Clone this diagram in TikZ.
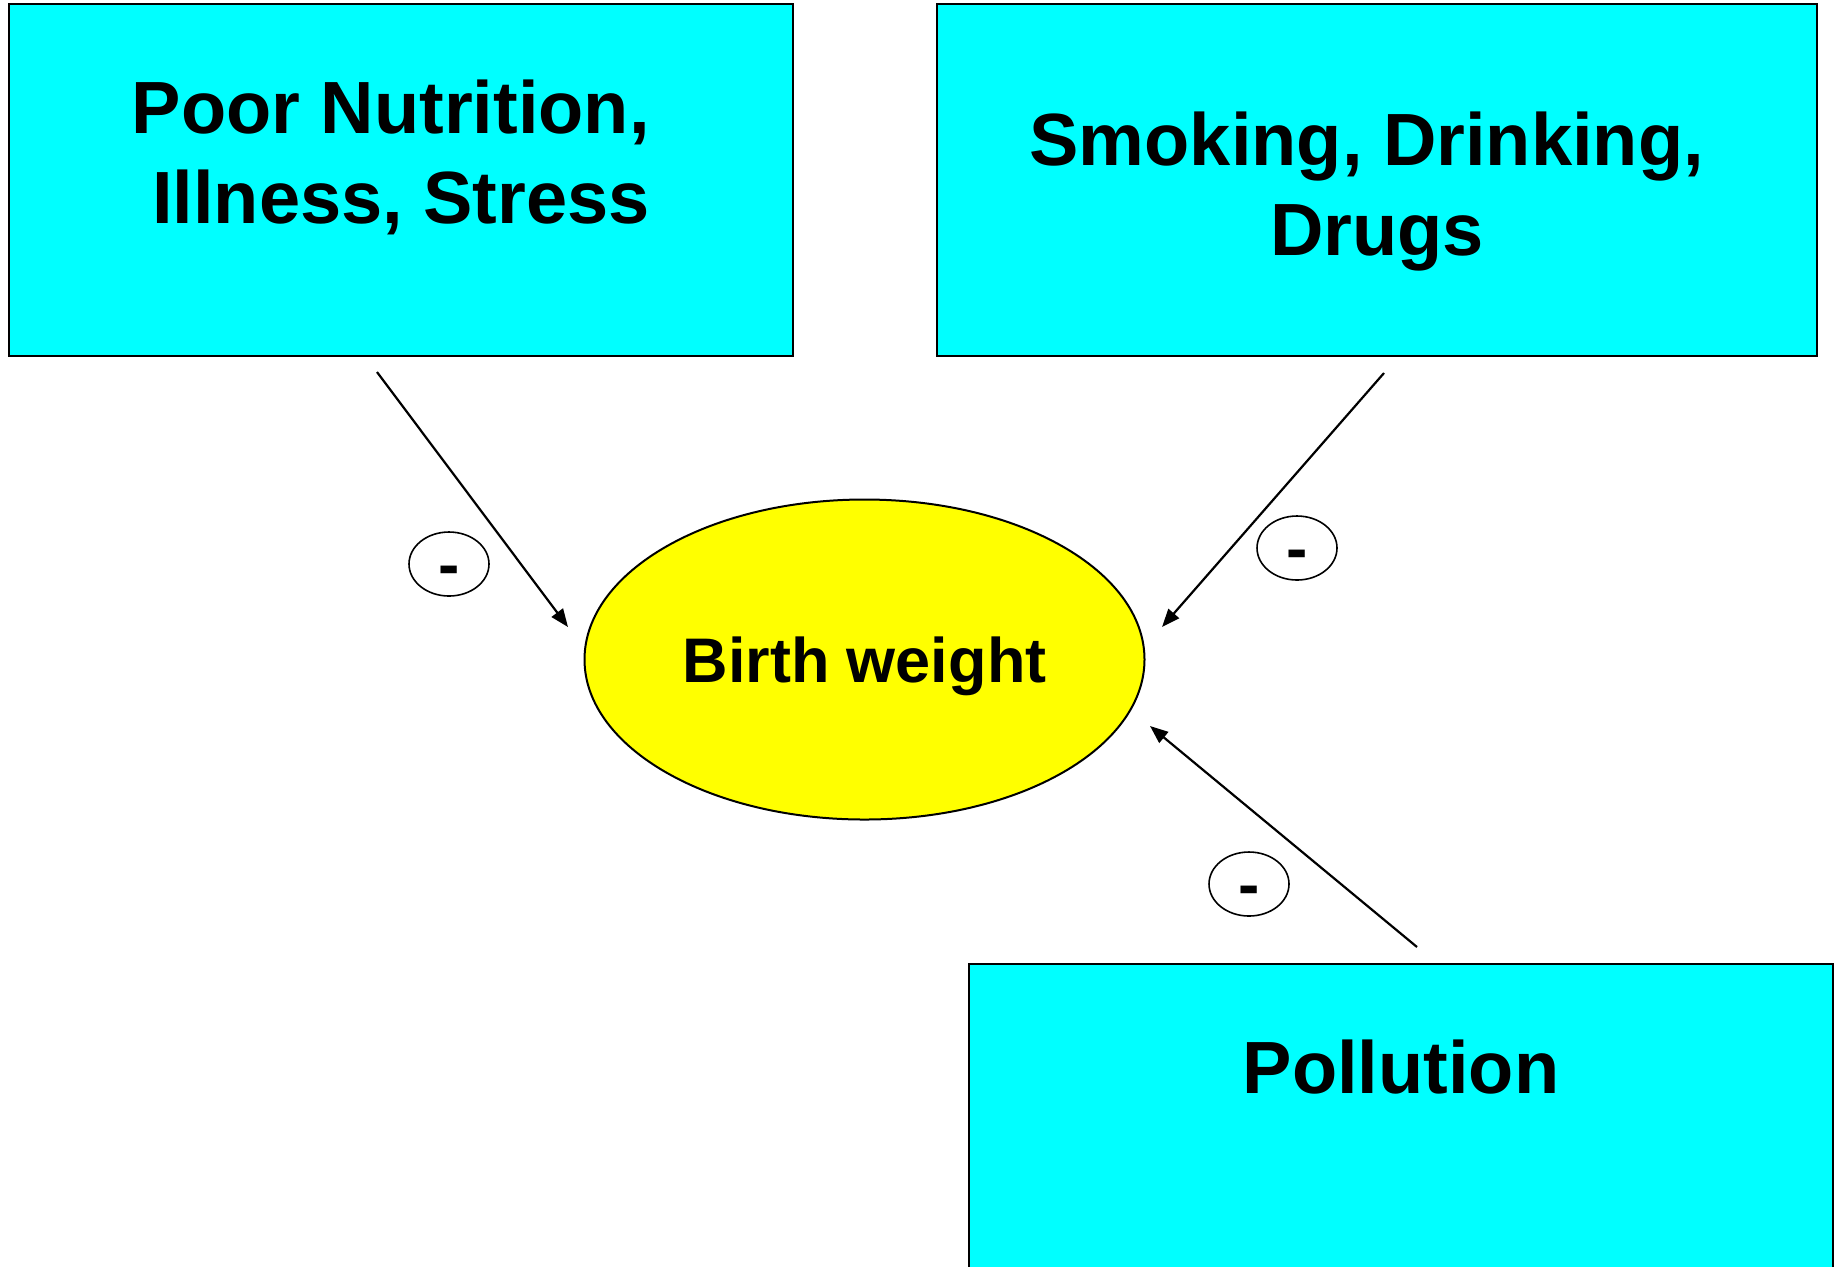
\documentclass[tikz,border=0pt]{standalone}
\usepackage{fontspec}
\setmainfont{Liberation Sans}
\usetikzlibrary{shapes.geometric,arrows.meta}
\definecolor{boxcyan}{HTML}{00FFFF}
\definecolor{bwyellow}{HTML}{FFFF00}
\tikzset{
  factorbox/.style={draw=black, line width=1pt, fill=boxcyan, rectangle, inner sep=0pt},
  bigtext/.style={font=\bfseries\fontsize{37}{45}\selectfont, align=center, inner sep=0pt, anchor=base},
  outcome/.style={draw=black, line width=1pt, fill=bwyellow, ellipse, inner sep=0pt,
    font=\bfseries\fontsize{31.5}{38}\selectfont, text depth=0pt},
  signmark/.style={draw=black, line width=0.8pt, ellipse, inner sep=0pt,
    minimum width=40pt, minimum height=32pt,
    font=\bfseries\fontsize{32}{38}\selectfont, text height=22pt, text depth=0pt},
  effect/.style={line width=1.1pt, -{Triangle[length=9pt,width=7pt]}}
}
\begin{document}
\begin{tikzpicture}[x=0.5pt, y=-0.5pt]
\useasboundingbox[fill=white] (0,0) rectangle (1839,1266);
\clip (0,0) rectangle (1839,1266);
% factor boxes
\node[factorbox, minimum width=392pt, minimum height=176pt] (box1) at (401,180) {};
\node[factorbox, minimum width=440pt, minimum height=176pt] (box2) at (1377,180) {};
\node[factorbox, minimum width=432pt, minimum height=163pt] (box3) at (1401,1127) {};
\node[bigtext] (t1) at (401,223) {Poor Nutrition,\kern0.28em\\Illness, Stress};
\node[bigtext] (t2) at (1377,255) {Smoking, Drinking,\kern0.28em\\Drugs};
\node[bigtext] (t3) at (1401,1093) {Pollution};
% outcome
\node[outcome, minimum width=280pt, minimum height=160pt] (bw) at (864.5,659.5) {Birth weight};
% sign markers
\node[signmark] (m1) at (449,564) {-};
\node[signmark] (m2) at (1297,548) {-};
\node[signmark] (m3) at (1249,884) {-};
% connector ends
\coordinate (a1s) at (377,372);
\coordinate (a1e) at (568,627);
\coordinate (a2s) at (1384,373);
\coordinate (a2e) at (1162,627);
\coordinate (a3s) at (1417,947);
\coordinate (a3e) at (1150,726);
\draw[effect] (a1s) -- (a1e);
\draw[effect] (a2s) -- (a2e);
\draw[effect] (a3s) -- (a3e);
\end{tikzpicture}
\end{document}
